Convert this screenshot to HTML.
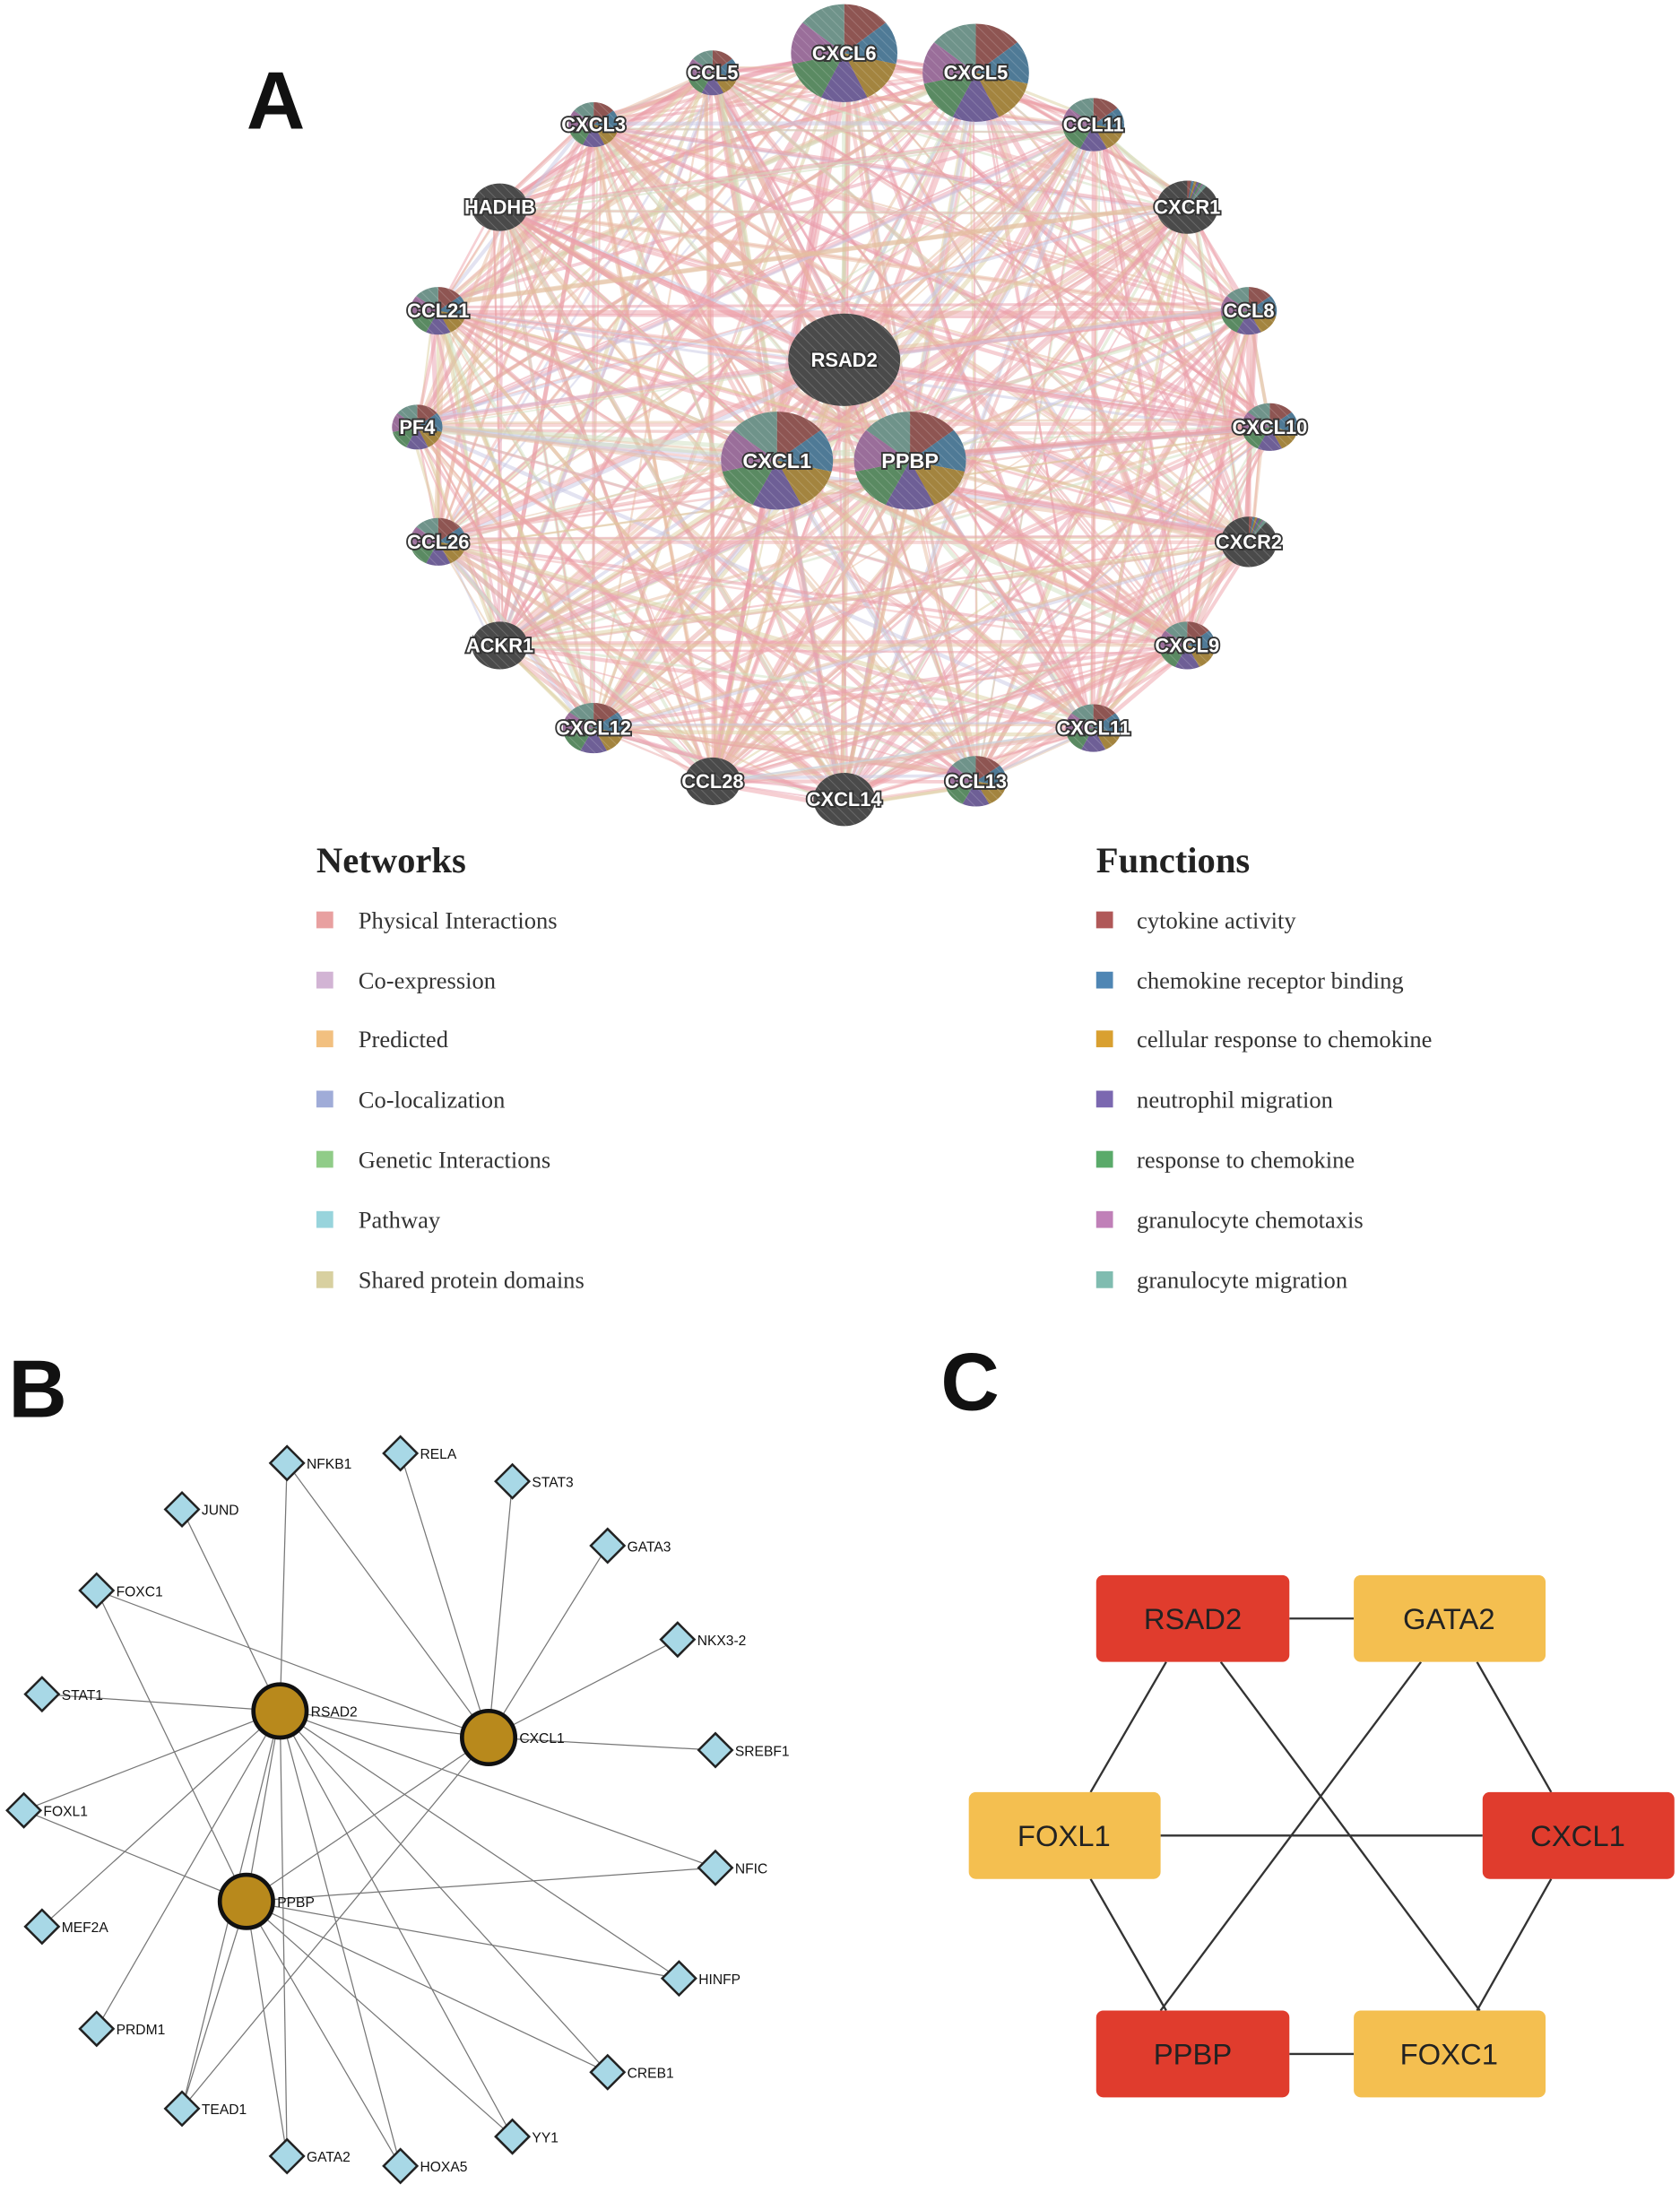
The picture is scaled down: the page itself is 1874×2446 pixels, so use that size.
<!DOCTYPE html>
<html><head><meta charset="utf-8"><style>
html,body{margin:0;padding:0;background:#fff;}
svg{display:block;}
.nl{font-family:"Liberation Sans",sans-serif;font-weight:bold;fill:#fff;stroke:#333;stroke-width:2.4px;paint-order:stroke;text-anchor:middle;dominant-baseline:central;}
.lg{font-family:"Liberation Serif",serif;font-size:17px;fill:#333;}
.lt{font-family:"Liberation Serif",serif;font-size:26px;font-weight:bold;fill:#222;}
.big{font-family:"Liberation Sans",sans-serif;font-weight:bold;font-size:58px;fill:#111;}
.bl{font-family:"Liberation Sans",sans-serif;font-size:10px;fill:#111;}
.cl{font-family:"Liberation Sans",sans-serif;font-size:21px;fill:#222;text-anchor:middle;dominant-baseline:central;}
</style></head><body>
<svg id="s" width="1874" height="2446" viewBox="0 0 1200 1566.3" xmlns="http://www.w3.org/2000/svg">
<defs><pattern id="h" width="5" height="5" patternUnits="userSpaceOnUse" patternTransform="rotate(-45)"><rect width="5" height="5" fill="none"/><line x1="0" y1="0" x2="0" y2="5" stroke="#fff" stroke-opacity="0.18" stroke-width="1.2"/></pattern></defs>
<text class="big" x="176" y="92">A</text>
<g id="edges"></g>
<g id="nodes"></g>
<text class="lt" x="226" y="623">Networks</text>
<rect x="226" y="651" width="12" height="12" fill="#e8a0a0"/><text class="lg" x="256" y="663">Physical Interactions</text>
<rect x="226" y="694" width="12" height="12" fill="#d2b4d4"/><text class="lg" x="256" y="706">Co-expression</text>
<rect x="226" y="736" width="12" height="12" fill="#f2c080"/><text class="lg" x="256" y="748">Predicted</text>
<rect x="226" y="779" width="12" height="12" fill="#a0acd8"/><text class="lg" x="256" y="791">Co-localization</text>
<rect x="226" y="822" width="12" height="12" fill="#90cc88"/><text class="lg" x="256" y="834">Genetic Interactions</text>
<rect x="226" y="865" width="12" height="12" fill="#98d4dc"/><text class="lg" x="256" y="877">Pathway</text>
<rect x="226" y="908" width="12" height="12" fill="#d8d0a0"/><text class="lg" x="256" y="920">Shared protein domains</text>
<text class="lt" x="783" y="623">Functions</text>
<rect x="783" y="651" width="12" height="12" fill="#b05858"/><text class="lg" x="812" y="663">cytokine activity</text>
<rect x="783" y="694" width="12" height="12" fill="#4f86b4"/><text class="lg" x="812" y="706">chemokine receptor binding</text>
<rect x="783" y="736" width="12" height="12" fill="#d9a030"/><text class="lg" x="812" y="748">cellular response to chemokine</text>
<rect x="783" y="779" width="12" height="12" fill="#7b68b0"/><text class="lg" x="812" y="791">neutrophil migration</text>
<rect x="783" y="822" width="12" height="12" fill="#5aaa6a"/><text class="lg" x="812" y="834">response to chemokine</text>
<rect x="783" y="865" width="12" height="12" fill="#c080b8"/><text class="lg" x="812" y="877">granulocyte chemotaxis</text>
<rect x="783" y="908" width="12" height="12" fill="#80bcb0"/><text class="lg" x="812" y="920">granulocyte migration</text>
<text class="big" x="6" y="1012">B</text>
<g id="bedges" stroke="#777" stroke-width="0.8"></g>
<g id="bnodes"></g>
<text class="big" x="672" y="1007">C</text>
<g stroke="#333" stroke-width="1.5">
<line x1="921" y1="1156" x2="967" y2="1156"/>
<line x1="829" y1="1311" x2="1059" y2="1311"/>
<line x1="921" y1="1467" x2="967" y2="1467"/>
<line x1="833" y1="1187" x2="779" y2="1280"/>
<line x1="872" y1="1187" x2="1057" y2="1436"/>
<line x1="1015" y1="1187" x2="829" y2="1436"/>
<line x1="1055" y1="1187" x2="1108" y2="1280"/>
<line x1="779" y1="1342" x2="833" y2="1436"/>
<line x1="1108" y1="1342" x2="1055" y2="1436"/>
</g>
<rect x="783" y="1125" width="138" height="62" rx="5" fill="#e03c2d"/><text class="cl" x="852" y="1156">RSAD2</text>
<rect x="967" y="1125" width="137" height="62" rx="5" fill="#f4bf50"/><text class="cl" x="1035" y="1156">GATA2</text>
<rect x="692" y="1280" width="137" height="62" rx="5" fill="#f4bf50"/><text class="cl" x="760" y="1311">FOXL1</text>
<rect x="1059" y="1280" width="137" height="62" rx="5" fill="#e03c2d"/><text class="cl" x="1127" y="1311">CXCL1</text>
<rect x="783" y="1436" width="138" height="62" rx="5" fill="#e03c2d"/><text class="cl" x="852" y="1467">PPBP</text>
<rect x="967" y="1436" width="137" height="62" rx="5" fill="#f4bf50"/><text class="cl" x="1035" y="1467">FOXC1</text>
</svg>
<script>
var NS="http://www.w3.org/2000/svg";
function el(t,a,p){var e=document.createElementNS(NS,t);for(var k in a)e.setAttribute(k,a[k]);p.appendChild(e);return e;}
var N=[["CXCL6",603,38,38,35,"p",14],["CXCL5",697,52,38,35,"p",14],["CCL5",509,52,18,16,"p",14],["CXCL3",424,89,18,16,"p",14],["CCL11",781,89,22,19,"p",14],["HADHB",357,148,20,17,"d",14],["CXCR1",848,148,22,19,"dp",14],["CCL21",313,222,20,17,"p",14],["CCL8",892,222,20,17,"p",14],["RSAD2",603,257,40,33,"d",14],["PF4",298,305,18,16,"p",14],["CXCL10",907,305,20,17,"p",14],["CXCL1",555,329,40,35,"p",15],["PPBP",650,329,40,35,"p",15],["CCL26",313,387,20,17,"p",14],["CXCR2",892,387,20,18,"dp",14],["ACKR1",357,461,20,17,"d",14],["CXCL9",848,461,20,17,"p",14],["CXCL12",424,520,22,18,"p",14],["CXCL11",781,520,20,17,"p",14],["CCL28",509,558,20,17,"d",14],["CCL13",697,558,22,18,"p",14],["CXCL14",603,571,22,19,"d",14]];
var E=document.getElementById("edges"),G=document.getElementById("nodes");
var ec=["#e99aa6","#eaa8a8","#e8bca0","#dcd0a0","#e9a0b0","#ee9fa8","#e4c0a0","#f0b0b0","#c8c8e4","#cfe0c0"];
var seed=7;function r(){seed=(seed*9301+49297)%233280;return seed/233280;}
for(var i=0;i<N.length;i++)for(var j=i+1;j<N.length;j++){for(var k=0;k<3;k++){if(k>0&&r()<0.3)continue;var o=(r()-0.5)*12;
el("line",{x1:N[i][1]+o,y1:N[i][2]+o*0.5,x2:N[j][1]-o*0.5,y2:N[j][2]+o,stroke:ec[Math.floor(r()*10)],"stroke-width":1+r()*2.5,"stroke-opacity":0.5},E);}}
var pc=["#8e5552","#4f7a96","#a3843f","#6e5f96","#5a8a62","#9a6e9a","#6f938a"];
N.forEach(function(n){var x=n[1],y=n[2],a=n[3],b=n[4];
 if(n[5]=="d"){el("ellipse",{cx:x,cy:y,rx:a,ry:b,fill:"#4a4a4a"},G);}
 else{var start=0,seg=n[5]=="dp"?[0.15,0.1,0.1,0.1,0.1,0.05,0.15]:[1,1,1,1,1,1,1];
  if(n[5]=="dp")el("ellipse",{cx:x,cy:y,rx:a,ry:b,fill:"#4a4a4a"},G);
  var tot=7;for(var s=0;s<7;s++){var a0=start/tot*2*Math.PI,a1=(start+seg[s])/tot*2*Math.PI;start+=seg[s];
   var x0=x+a*Math.sin(a0),y0=y-b*Math.cos(a0),x1=x+a*Math.sin(a1),y1=y-b*Math.cos(a1);
   el("path",{d:"M"+x+","+y+" L"+x0+","+y0+" A"+a+","+b+" 0 0 1 "+x1+","+y1+" Z",fill:pc[s]},G);}}
 el("ellipse",{cx:x,cy:y,rx:a,ry:b,fill:"url(#h)"},G);
 var t=el("text",{x:x,y:y,"class":"nl","font-size":n[6]},G);t.textContent=n[0];});
var H={RSAD2:[200,1222],CXCL1:[349,1241],PPBP:[176,1358]};
var D=[["NFKB1",205,1045],["RELA",286,1038],["STAT3",366,1058],["GATA3",434,1104],["NKX3-2",484,1171],["SREBF1",511,1250],["NFIC",511,1334],["HINFP",485,1413],["CREB1",434,1480],["YY1",366,1526],["HOXA5",286,1547],["GATA2",205,1540],["TEAD1",130,1506],["PRDM1",69,1449],["MEF2A",30,1376],["FOXL1",17,1293],["STAT1",30,1210],["FOXC1",69,1136],["JUND",130,1078]];
var P={};D.forEach(function(d){P[d[0]]=[d[1],d[2]];});for(var k in H)P[k]=H[k];
var L=[["RSAD2","NFKB1"],["RSAD2","JUND"],["RSAD2","STAT1"],["RSAD2","FOXL1"],["RSAD2","MEF2A"],["RSAD2","PRDM1"],["RSAD2","GATA2"],["RSAD2","HOXA5"],["RSAD2","YY1"],["RSAD2","CREB1"],["RSAD2","NFIC"],["RSAD2","CXCL1"],["RSAD2","TEAD1"],["RSAD2","HINFP"],
["CXCL1","NFKB1"],["CXCL1","RELA"],["CXCL1","STAT3"],["CXCL1","GATA3"],["CXCL1","NKX3-2"],["CXCL1","SREBF1"],["CXCL1","FOXC1"],["CXCL1","TEAD1"],["CXCL1","PPBP"],
["PPBP","FOXC1"],["PPBP","FOXL1"],["PPBP","NFIC"],["PPBP","HINFP"],["PPBP","CREB1"],["PPBP","YY1"],["PPBP","HOXA5"],["PPBP","GATA2"],["PPBP","TEAD1"],["PPBP","RSAD2"]];
var BE=document.getElementById("bedges"),BN=document.getElementById("bnodes");
L.forEach(function(l){el("line",{x1:P[l[0]][0],y1:P[l[0]][1],x2:P[l[1]][0],y2:P[l[1]][1]},BE);});
D.forEach(function(d){var x=d[1],y=d[2],s=12;el("polygon",{points:(x)+","+(y-s)+" "+(x+s)+","+y+" "+x+","+(y+s)+" "+(x-s)+","+y,fill:"#a8d8e6",stroke:"#222","stroke-width":1.6},BN);
 var t=el("text",{x:x+14,y:y+4,"class":"bl"},BN);t.textContent=d[0];});
for(var k in H){var x=H[k][0],y=H[k][1];el("circle",{cx:x,cy:y,r:19,fill:"#b8891c",stroke:"#111","stroke-width":3},BN);var t=el("text",{x:x+22,y:y+4,"class":"bl"},BN);t.textContent=k;}
</script>
</body></html>
